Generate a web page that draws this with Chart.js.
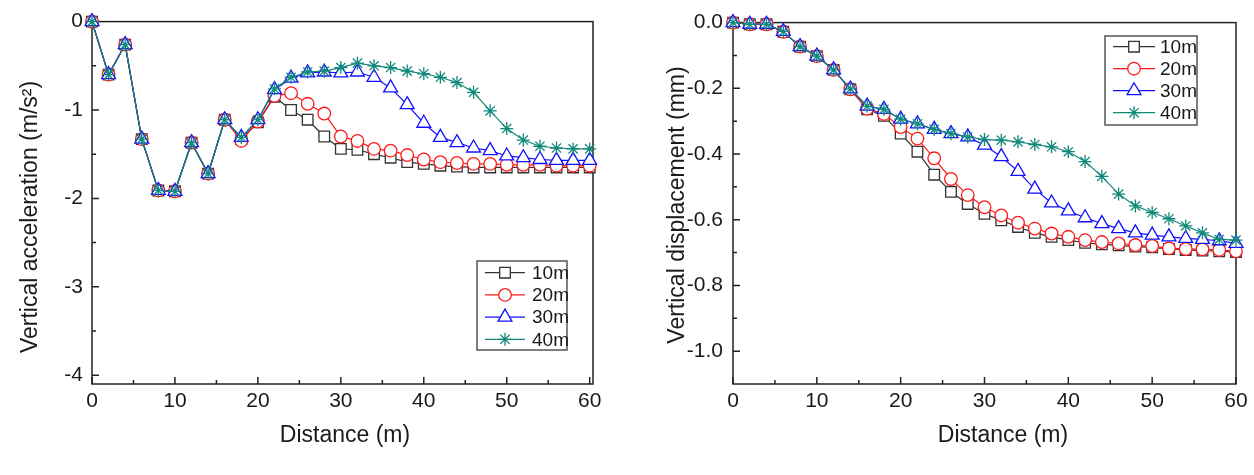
<!DOCTYPE html>
<html><head><meta charset="utf-8">
<script src="https://cdn.jsdelivr.net/npm/chart.js@4.4.1/dist/chart.umd.min.js"></script>
<style>
html,body{margin:0;padding:0;background:#fff;width:1254px;height:475px;overflow:hidden;position:relative}
#accChart{position:absolute;left:0;top:0}
#dispChart{position:absolute;left:627px;top:0}
</style></head><body>
<canvas id="accChart" width="627" height="475"></canvas>
<canvas id="dispChart" width="627" height="475"></canvas>
<script>
// ---------- data ----------
const distances = [0,2,4,6,8,10,12,14,16,18,20,22,24,26,28,30,32,34,36,38,40,42,44,46,48,50,52,54,56,58,60];
const seriesLabels = ['10m','20m','30m','40m'];

// Vertical acceleration (m/s^2)
const acc10m = [0,-0.60,-0.26,-1.33,-1.91,-1.92,-1.37,-1.72,-1.11,-1.33,-1.14,-0.85,-1.00,-1.11,-1.30,-1.44,-1.45,-1.50,-1.54,-1.59,-1.61,-1.63,-1.64,-1.65,-1.65,-1.65,-1.65,-1.65,-1.65,-1.65,-1.65];
const acc20m = [0,-0.60,-0.26,-1.33,-1.91,-1.92,-1.37,-1.72,-1.11,-1.35,-1.13,-0.84,-0.81,-0.93,-1.04,-1.30,-1.35,-1.44,-1.46,-1.51,-1.56,-1.59,-1.60,-1.61,-1.61,-1.62,-1.62,-1.62,-1.63,-1.63,-1.63];
const acc30m = [0,-0.60,-0.26,-1.33,-1.91,-1.92,-1.37,-1.72,-1.11,-1.31,-1.11,-0.77,-0.64,-0.58,-0.57,-0.58,-0.57,-0.63,-0.75,-0.94,-1.15,-1.31,-1.37,-1.43,-1.46,-1.52,-1.54,-1.56,-1.57,-1.57,-1.57];
const acc40m = [0,-0.60,-0.26,-1.33,-1.91,-1.92,-1.37,-1.72,-1.11,-1.31,-1.11,-0.76,-0.63,-0.57,-0.56,-0.52,-0.47,-0.50,-0.52,-0.56,-0.59,-0.63,-0.69,-0.80,-1.01,-1.21,-1.34,-1.41,-1.43,-1.44,-1.44];

// Vertical displacement (mm)
const disp10m = [0,-0.005,-0.005,-0.028,-0.073,-0.102,-0.144,-0.203,-0.264,-0.284,-0.338,-0.393,-0.463,-0.515,-0.552,-0.582,-0.602,-0.622,-0.640,-0.652,-0.662,-0.670,-0.675,-0.678,-0.682,-0.684,-0.689,-0.692,-0.694,-0.696,-0.698];
const disp20m = [0,-0.005,-0.005,-0.028,-0.073,-0.102,-0.144,-0.203,-0.262,-0.278,-0.318,-0.353,-0.413,-0.476,-0.525,-0.562,-0.587,-0.609,-0.627,-0.642,-0.652,-0.662,-0.668,-0.672,-0.677,-0.680,-0.687,-0.689,-0.690,-0.692,-0.696];
const disp30m = [0,-0.005,-0.005,-0.027,-0.073,-0.102,-0.144,-0.202,-0.254,-0.264,-0.294,-0.308,-0.325,-0.338,-0.348,-0.373,-0.408,-0.453,-0.507,-0.549,-0.573,-0.594,-0.612,-0.627,-0.640,-0.647,-0.652,-0.657,-0.660,-0.664,-0.672];
const disp40m = [0,-0.005,-0.005,-0.027,-0.073,-0.102,-0.144,-0.202,-0.254,-0.264,-0.294,-0.308,-0.325,-0.338,-0.348,-0.356,-0.358,-0.363,-0.371,-0.378,-0.393,-0.423,-0.468,-0.522,-0.558,-0.578,-0.597,-0.619,-0.640,-0.660,-0.662];

// ticks
const xTickValues = [0,10,20,30,40,50,60];
const xTickLabels = ['0','10','20','30','40','50','60'];
const accTickValues = [0,-1,-2,-3,-4];
const accTickLabels = ['0','-1','-2','-3','-4'];
const dispTickValues = [0,-0.2,-0.4,-0.6,-0.8,-1.0];
const dispTickLabels = ['0.0','-0.2','-0.4','-0.6','-0.8','-1.0'];

// titles
const xTitle = 'Distance (m)';
const accTitle = 'Vertical acceleration (m/s²)';
const dispTitle = 'Vertical displacement (mm)';

// ---------- styling ----------
const FONT = "'Liberation Sans', Arial, Helvetica, sans-serif";
const TEXT = '#1a1a1a';
Chart.defaults.font.family = FONT;
Chart.defaults.color = TEXT;

const seriesStyles = [
  {color:'#333333', pointStyle:'rect', radius:7.5},
  {color:'#ff1a1a', pointStyle:'circle', radius:6.3},
  {color:'#1010ff', pointStyle:'triangle', radius:8},
  {color:'#11897a', pointStyle:'star', radius:6.5}
];

function buildDatasets(valueArrays){
  return valueArrays.map((vals, i) => ({
    label: seriesLabels[i],
    data: distances.map((d, j) => ({x: d, y: vals[j]})),
    borderColor: seriesStyles[i].color,
    borderWidth: 1.2,
    pointStyle: seriesStyles[i].pointStyle,
    pointRadius: seriesStyles[i].radius,
    pointBorderWidth: 1.3,
    pointBorderColor: seriesStyles[i].color,
    pointBackgroundColor: '#ffffff',
    tension: 0,
    clip: false,
    order: 4 - i
  }));
}

function midpoints(arr){
  const out = [];
  for (let i = 0; i < arr.length - 1; i++) out.push((arr[i] + arr[i+1]) / 2);
  return out;
}

// frame + inward major/minor ticks
const framePlugin = {
  id: 'frameTicks',
  beforeDatasetsDraw(chart, args, o){
    const ctx = chart.ctx, a = chart.chartArea, xs = chart.scales.x, ys = chart.scales.y;
    ctx.save();
    ctx.strokeStyle = '#222';
    ctx.lineWidth = 1.5;
    ctx.strokeRect(a.left, a.top, a.right - a.left, a.bottom - a.top);
    ctx.beginPath();
    o.xMajor.forEach(v => { const p = xs.getPixelForValue(v); ctx.moveTo(p, a.bottom); ctx.lineTo(p, a.bottom - 7); });
    midpoints(o.xMajor).forEach(v => { const p = xs.getPixelForValue(v); ctx.moveTo(p, a.bottom); ctx.lineTo(p, a.bottom - 4); });
    o.yMajor.forEach(v => { const p = ys.getPixelForValue(v); ctx.moveTo(a.left, p); ctx.lineTo(a.left + 7, p); });
    midpoints(o.yMajor).forEach(v => { const p = ys.getPixelForValue(v); ctx.moveTo(a.left, p); ctx.lineTo(a.left + 4, p); });
    ctx.stroke();
    ctx.restore();
  }
};

// axis titles placed where the original figure has them
const axisTitlePlugin = {
  id: 'axisTitles',
  afterDraw(chart, args, o){
    const ctx = chart.ctx;
    ctx.save();
    ctx.fillStyle = TEXT;
    ctx.font = o.fontSize + 'px ' + FONT;
    ctx.textAlign = 'center';
    ctx.textBaseline = 'middle';
    ctx.fillText(o.xText, o.xPos[0], o.xPos[1]);
    ctx.translate(o.yPos[0], o.yPos[1]);
    ctx.rotate(-Math.PI / 2);
    ctx.fillText(o.yText, 0, 0);
    ctx.restore();
  }
};

function drawMarker(ctx, style, r, x, y){
  if (Chart.helpers && Chart.helpers.drawPoint) {
    Chart.helpers.drawPoint(ctx, {pointStyle: style, radius: r, borderWidth: 1.3, rotation: 0}, x, y);
  }
}

const boxLegendPlugin = {
  id: 'boxLegend',
  afterDatasetsDraw(chart, args, o){
    const ctx = chart.ctx;
    ctx.save();
    ctx.fillStyle = '#fff';
    ctx.fillRect(o.x, o.y, o.w, o.h);
    ctx.strokeStyle = '#555';
    ctx.lineWidth = 1.5;
    ctx.strokeRect(o.x, o.y, o.w, o.h);
    chart.data.datasets.forEach((ds, i) => {
      const cy = o.y + o.first + i * o.gap;
      ctx.strokeStyle = ds.borderColor;
      ctx.lineWidth = 1.2;
      ctx.beginPath();
      ctx.moveTo(o.x + o.lineStart, cy);
      ctx.lineTo(o.x + o.lineStart + o.lineLen, cy);
      ctx.stroke();
      ctx.fillStyle = '#fff';
      ctx.strokeStyle = ds.borderColor;
      ctx.lineWidth = 1.3;
      drawMarker(ctx, ds.pointStyle, ds.pointRadius, o.x + o.lineStart + o.lineLen / 2, cy);
      ctx.fillStyle = TEXT;
      ctx.font = o.fontSize + 'px ' + FONT;
      ctx.textAlign = 'left';
      ctx.textBaseline = 'middle';
      ctx.fillText(ds.label, o.x + o.textX, cy + 1);
    });
    ctx.restore();
  }
};

function makeChart(id, cfg){
  return new Chart(document.getElementById(id), {
    type: 'line',
    data: {datasets: buildDatasets(cfg.series)},
    plugins: [framePlugin, boxLegendPlugin, axisTitlePlugin],
    options: {
      responsive: false,
      animation: false,
      devicePixelRatio: 1,
      events: [],
      layout: {padding: {top: 14, right: cfg.padRight, left: 0, bottom: 0}},
      plugins: {
        legend: {display: false},
        tooltip: {enabled: false},
        frameTicks: {xMajor: xTickValues, yMajor: cfg.yTicks},
        boxLegend: cfg.legend,
        axisTitles: cfg.titles
      },
      scales: {
        x: {
          type: 'linear', min: 0, max: cfg.xMax,
          afterBuildTicks: s => { s.ticks = xTickValues.map(v => ({value: v})); },
          afterFit: s => { s.height = 91; },
          ticks: {font: {size: 21}, color: TEXT, padding: 5, maxRotation: 0, autoSkip: false, includeBounds: false,
                  callback: (v, i) => xTickLabels[i]},
          grid: {display: false, drawTicks: false},
          border: {display: false},
          title: {display: false}
        },
        y: {
          type: 'linear', min: cfg.yMin, max: 0,
          afterBuildTicks: s => { s.ticks = cfg.yTicks.map(v => ({value: v})); },
          afterFit: s => { s.width = cfg.yWidth; },
          ticks: {font: {size: 21}, color: TEXT, padding: cfg.yLabelPad, autoSkip: false, includeBounds: false,
                  callback: (v, i) => cfg.yLabels[i]},
          grid: {display: false, drawTicks: false},
          border: {display: false},
          title: {display: false}
        }
      }
    }
  });
}

makeChart('accChart', {
  series: [acc10m, acc20m, acc30m, acc40m],
  xMax: 60.4, yMin: -4.1,
  yTicks: accTickValues, yLabels: accTickLabels,
  yWidth: 92, padRight: 34, yLabelPad: 9,
  titles: {xText: xTitle, yText: accTitle, fontSize: 23, xPos: [345, 436], yPos: [31, 217]},
  legend: {x: 477, y: 261, w: 90, h: 89, first: 11.7, gap: 22.2, lineStart: 8, lineLen: 40, textX: 55, fontSize: 19}
});

makeChart('dispChart', {
  series: [disp10m, disp20m, disp30m, disp40m],
  xMax: 60, yMin: -1.1,
  yTicks: dispTickValues, yLabels: dispTickLabels,
  yWidth: 106, padRight: 18, yLabelPad: 10,
  titles: {xText: xTitle, yText: dispTitle, fontSize: 23, xPos: [376, 436], yPos: [51, 205]},
  legend: {x: 478, y: 36, w: 92, h: 89, first: 10.7, gap: 22, lineStart: 8, lineLen: 42, textX: 55, fontSize: 19}
});
</script>
</body></html>
